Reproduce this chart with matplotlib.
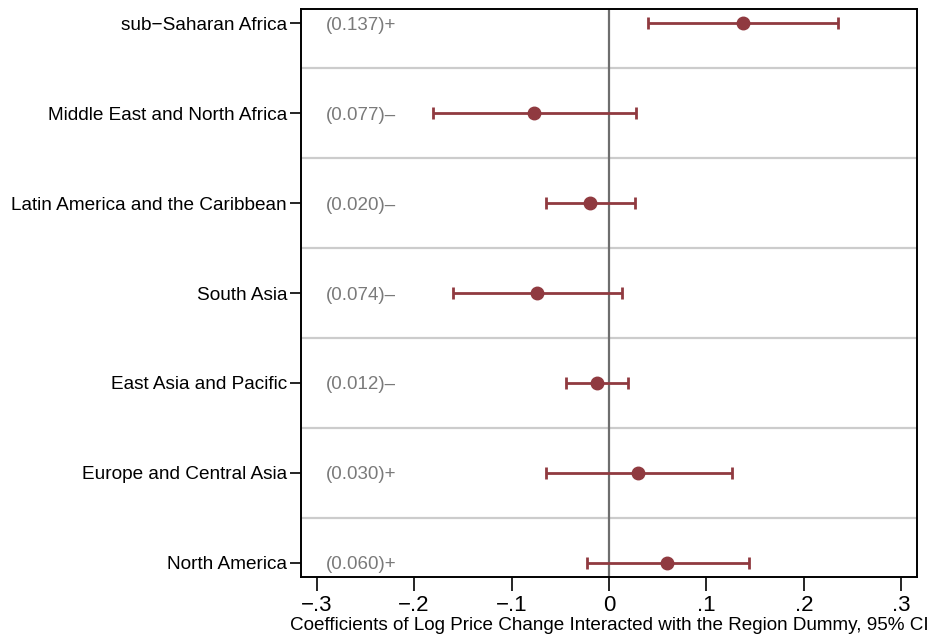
import matplotlib
matplotlib.use("Agg")
import matplotlib.pyplot as plt
import numpy as np

plt.rcParams['font.family'] = ['Liberation Sans', 'DejaVu Sans']

regions = ["sub\u2212Saharan Africa", "Middle East and North Africa",
           "Latin America and the Caribbean", "South Asia",
           "East Asia and Pacific", "Europe and Central Asia", "North America"]
coef = [0.137, -0.077, -0.020, -0.074, -0.012, 0.030, 0.060]
ci_lo = [0.040, -0.181, -0.065, -0.160, -0.044, -0.065, -0.023]
ci_hi = [0.235, 0.028, 0.027, 0.013, 0.020, 0.126, 0.144]
labels = ["(0.137)+", "(0.077)\u2013", "(0.020)\u2013", "(0.074)\u2013",
          "(0.012)\u2013", "(0.030)+", "(0.060)+"]
xticks = [-0.3, -0.2, -0.1, 0, 0.1, 0.2, 0.3]
xticklabels = ["\u2212.3", "\u2212.2", "\u2212.1", "0", ".1", ".2", ".3"]

color = "#903a40"

fig = plt.figure(figsize=(9.35, 6.39), dpi=100)
ax = fig.add_axes([301/935, 1-577/639, (917-301)/935, (577-9)/639])

n = len(regions)
y = np.arange(n)[::-1]

# separators between rows
for yy in np.arange(n - 1) + 0.5:
    ax.axhline(yy, color="#cccccc", lw=1.6, zorder=0)
ax.axvline(0, color="#6e6e6e", lw=1.6, zorder=1)

c = np.array(coef)
xerr = np.vstack([c - np.array(ci_lo), np.array(ci_hi) - c])
ax.errorbar(c, y, xerr=xerr, fmt='o', color=color, ms=9, lw=2,
            capsize=4.5, capthick=2, zorder=3)

for yy, lab in zip(y, labels):
    ax.text(-0.2905, yy, lab, color="#7a7a7a", fontsize=13.5,
            va='center_baseline', ha='left')

ax.set_xlim(-0.316, 0.316)
ax.set_ylim(-0.156, n - 1 + 0.156)
ax.set_yticks(y)
ax.set_yticklabels(regions, fontsize=13.7)
ax.set_xticks(xticks)
ax.set_xticklabels(xticklabels, fontsize=16)
ax.tick_params(axis='y', length=8, width=1.2, pad=2)
ax.tick_params(axis='x', length=10, width=1.2, pad=3)
for s in ax.spines.values():
    s.set_linewidth(1.4)
ax.set_xlabel("Coefficients of Log Price Change Interacted with the Region Dummy, 95% CI",
              fontsize=13.6, labelpad=1)

fig.savefig("out.png", dpi=100)
